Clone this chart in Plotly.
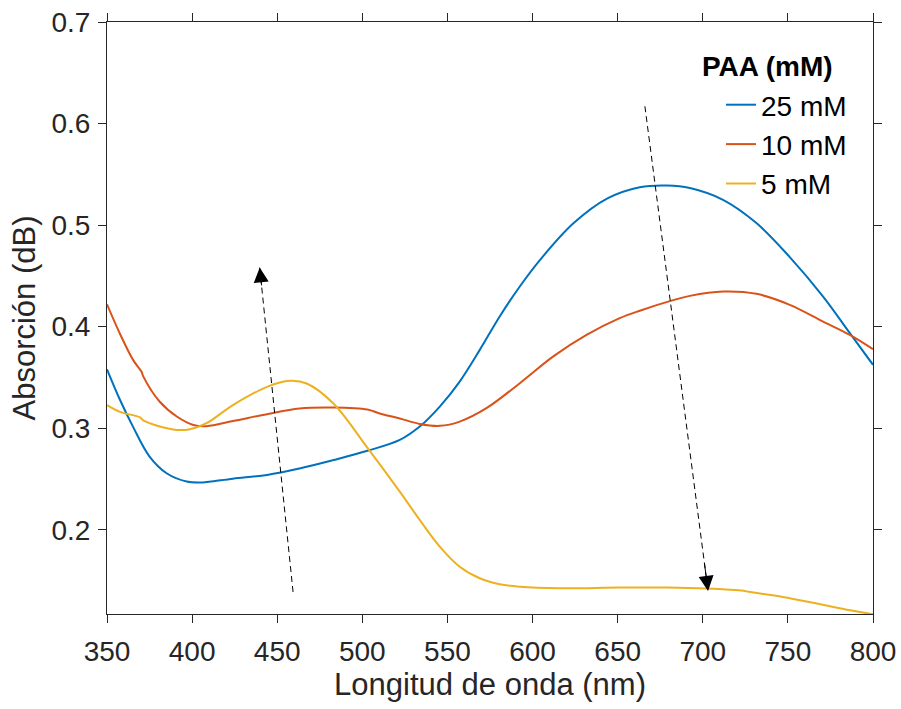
import plotly.graph_objects as go

# ---- data ----
wl_25 = [350, 357.6, 365.4, 375, 385, 396.8, 404.6, 410, 424, 444, 463, 483, 503, 522, 533.7,
         545.5, 557.2, 569, 580.7, 592.5, 604.3, 624, 644, 663, 679, 692.4, 711.9, 731.5,
         751.1, 770.7, 786.4, 800]
abs_25 = [0.358, 0.328, 0.301, 0.272, 0.2556, 0.2474, 0.2464, 0.2472, 0.2503, 0.254, 0.2603,
          0.2686, 0.2777, 0.2884, 0.3016, 0.3213, 0.3459, 0.3771, 0.41, 0.4395, 0.4655, 0.5017,
          0.5263, 0.5373, 0.539, 0.5365, 0.5249, 0.502, 0.4685, 0.4296, 0.3936, 0.3624]

wl_10 = [350, 357.6, 365.4, 370.3, 371.3, 381, 391, 400.7, 408.5, 424, 444, 463, 483, 503,
         510.2, 522, 533.7, 545.5, 557.2, 572.9, 592.5, 612, 631.7, 651.2, 663, 682.6, 692.4,
         711.9, 731.5, 751.1, 770.7, 786.4, 800]
abs_10 = [0.422, 0.393, 0.367, 0.3555, 0.351, 0.326, 0.3115, 0.3032, 0.302, 0.307, 0.3138,
          0.3194, 0.3204, 0.3184, 0.3145, 0.3096, 0.3042, 0.3023, 0.3065, 0.3197, 0.3443,
          0.3705, 0.3919, 0.4084, 0.4157, 0.4261, 0.4303, 0.4346, 0.4323, 0.4215, 0.405,
          0.3919, 0.3778]

wl_5 = [350, 357.6, 369.4, 371.3, 381, 391, 398.7, 408.5, 424, 444, 457.5, 467.3, 483, 502.6,
        522, 533.7, 545.5, 557.2, 569, 580.7, 592.5, 616, 651.2, 679, 702, 724, 727, 747, 767,
        786.6, 800]
abs_5 = [0.3227, 0.316, 0.3106, 0.3076, 0.3017, 0.2983, 0.299, 0.305, 0.3227, 0.3407, 0.3466,
         0.344, 0.3243, 0.2816, 0.2375, 0.2097, 0.1834, 0.1636, 0.1522, 0.1463, 0.1439, 0.1424,
         0.143, 0.143, 0.142, 0.1398, 0.1388, 0.1338, 0.1273, 0.1207, 0.1167]

series_names = ["25 mM", "10 mM", "5 mM"]
series_colors = ["#0072BD", "#D95319", "#EDB120"]

# arrows: [tail, tip] in data units
arrow_up_x = [459.3, 439.7]
arrow_up_y = [0.1387, 0.4583]
arrow_down_x = [666.0, 703.1]
arrow_down_y = [0.617, 0.1397]

x_ticks = [350, 400, 450, 500, 550, 600, 650, 700, 750, 800]
y_ticks = [0.2, 0.3, 0.4, 0.5, 0.6, 0.7]

FONT = "Liberation Sans, Arial, sans-serif"
AX = "#262626"

fig = go.Figure()
for wl, ab, name, col in zip([wl_25, wl_10, wl_5], [abs_25, abs_10, abs_5],
                             series_names, series_colors):
    fig.add_trace(go.Scatter(x=wl, y=ab, mode="lines", name=name,
                             line=dict(color=col, width=2, shape="spline", smoothing=1.0)))

for ax_, ay_ in [(arrow_up_x, arrow_up_y), (arrow_down_x, arrow_down_y)]:
    fig.add_trace(go.Scatter(x=ax_, y=ay_, mode="lines", showlegend=False, hoverinfo="skip",
                             line=dict(color="black", width=1, dash="6px,4px")))
    # arrow head only
    bx = ax_[1] + (ax_[0] - ax_[1]) * 0.06
    by = ay_[1] + (ay_[0] - ay_[1]) * 0.06
    fig.add_annotation(x=ax_[1], y=ay_[1], ax=bx, ay=by, xref="x", yref="y",
                       axref="x", ayref="y", text="", showarrow=True,
                       arrowhead=2, arrowsize=3, arrowwidth=1, arrowcolor="black")

plot_l, plot_r, plot_t, plot_b = 107, 873, 22, 614

# legend title as bold text above the legend entries
fig.add_annotation(text="<b>PAA (mM)</b>",
                   x=(767 - plot_l) / (plot_r - plot_l),
                   y=1 - (67 - plot_t) / (plot_b - plot_t),
                   xref="paper", yref="paper",
                   showarrow=False, font=dict(size=28, color="black", family=FONT),
                   xanchor="center", yanchor="middle")

fig.update_layout(
    width=901, height=709,
    margin=dict(l=plot_l, r=901 - plot_r, t=plot_t, b=709 - plot_b),
    paper_bgcolor="white", plot_bgcolor="white",
    font=dict(family=FONT, size=28, color=AX),
    legend=dict(
        x=0.8016, y=1 - (80 - plot_t) / (plot_b - plot_t), xanchor="left", yanchor="top",
        bgcolor="rgba(0,0,0,0)", borderwidth=0,
        font=dict(size=28, color="black"),
        tracegroupgap=0,
    ),
    xaxis=dict(
        range=[350, 800], tickvals=x_ticks, ticks="outside", ticklen=8, tickwidth=1,
        tickcolor=AX, showline=True, linecolor=AX, linewidth=1, mirror="allticks",
        showgrid=False, zeroline=False, tickfont=dict(size=28, color=AX), automargin=False,
        ticklabelstandoff=4,
        title=dict(text="Longitud de onda (nm)", font=dict(size=31, color=AX), standoff=6),
    ),
    yaxis=dict(
        range=[0.117, 0.7], tickvals=y_ticks, tickformat=".1f", ticks="outside", ticklen=8,
        tickwidth=1, tickcolor=AX, showline=True, linecolor=AX, linewidth=1,
        mirror="allticks", showgrid=False, zeroline=False, tickfont=dict(size=28, color=AX),
        automargin=False, ticklabelstandoff=2,
        title=dict(text="Absorción (dB)", font=dict(size=31, color=AX), standoff=6),
    ),
)

fig.write_html("out.html")
